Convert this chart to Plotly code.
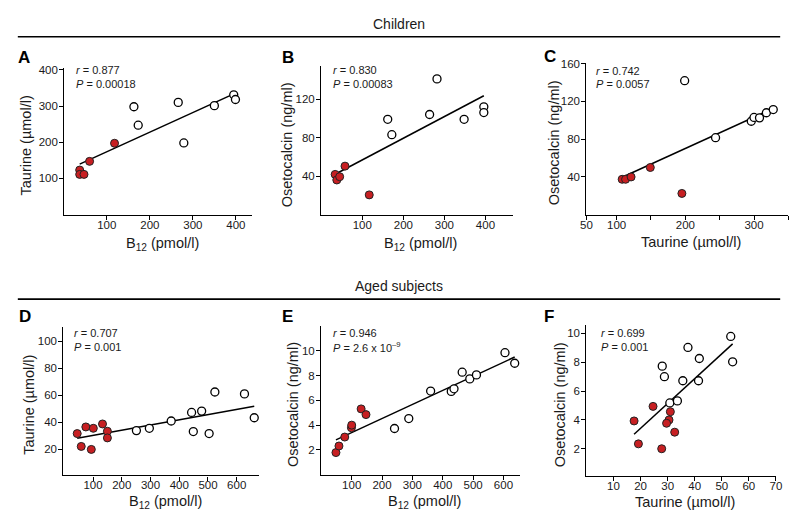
import numpy as np
import plotly.graph_objects as go

W, H = 798, 524

# ---------------- data ----------------
# A: B12 vs Taurine (children)
a_b12_red = [37, 37, 47, 60, 118]
a_tau_red = [123, 111, 111, 147, 197]
a_b12_white = [163, 173, 266, 279, 350, 395, 399]
a_tau_white = [298, 247, 310, 198, 301, 331, 318]

# B: B12 vs Osetocalcin (children)
b_b12_red = [34, 38, 45, 58, 117]
b_oc_red = [41.7, 35.9, 39.3, 50.3, 20.4]
b_b12_white = [162, 172, 264, 282, 348, 396, 396]
b_oc_white = [99, 83, 104, 141, 99, 112, 106]

# C: Taurine vs Osetocalcin (children)
c_tau_red = [108, 113, 121, 149, 195]
c_oc_red = [37.5, 37.5, 40, 50, 22.5]
c_tau_white = [199, 244, 296, 300, 308, 318, 328]
c_oc_white = [142, 81.6, 99, 103, 102.6, 108, 111.4]

# D: B12 vs Taurine (aged)
d_b12_red = [45, 59, 75, 94, 101, 133, 150, 150]
d_tau_red = [31.7, 22.2, 36.6, 20, 35.6, 38.8, 33.4, 28.5]
d_b12_white = [251, 296, 372, 443, 449, 478, 504, 524, 627, 661]
d_tau_white = [33.9, 35.6, 41, 47.3, 33.2, 48.3, 31.7, 62.4, 61, 43.4]

# E: B12 vs Osetocalcin (aged)
e_b12_red = [48, 58, 77, 99, 100, 131, 147]
e_oc_red = [1.79, 2.32, 3.04, 3.79, 4.0, 5.31, 4.85]
e_b12_white = [241, 288, 360, 428, 437, 464, 489, 511, 605, 637]
e_oc_white = [3.73, 4.53, 6.75, 6.72, 6.93, 8.27, 7.73, 8.05, 9.84, 8.99]

# F: Taurine vs Osetocalcin (aged)
f_tau_red = [24.6, 31, 30.5, 29.6, 17.6, 32.6, 19.2, 27.8]
f_oc_red = [4.94, 4.57, 4.0, 3.77, 3.93, 3.15, 2.34, 2.0]
f_tau_white = [53.3, 37.5, 41.7, 54, 28, 28.8, 35.6, 41.4, 30.8, 33.6]
f_oc_white = [9.79, 9.03, 8.26, 8.03, 7.73, 7.0, 6.72, 6.72, 5.18, 5.32]

stats_r = ["0.877", "0.830", "0.742", "0.707", "0.946", "0.699"]
stats_p = ["0.00018", "0.00083", "0.0057", "0.001", "2.6 x 10<sup>–9</sup>", "0.001"]
panel_letters = ["A", "B", "C", "D", "E", "F"]
group_titles = ["Children", "Aged subjects"]

b12_title = "B<sub>12</sub> (pmol/l)"
tau_title = "Taurine (\u00b5mol/l)"
oc_title = "Osetocalcin (ng/ml)"

# tick values / labels
a_xticks = [100, 200, 300, 400]
a_yticks = [100, 200, 300, 400]
b_xticks = [100, 200, 300, 400]
b_yticks = [40, 80, 120]
c_xticks = [56, 100, 200, 300]
c_xticklabels = ["50", "100", "200", "300"]
c_xminor = [150, 250, 350]
c_yticks = [40, 80, 120, 160]
d_xticks = [100, 200, 300, 400, 500, 600]
d_yticks = [20, 40, 60, 80, 100]
e_xticks = [100, 200, 300, 400, 500, 600]
e_yticks = [2, 4, 6, 8, 10]
f_xticks = [10, 20, 30, 40, 50, 60, 70]
f_yticks = [2, 4, 6, 8, 10]

# ---------------- layout helpers ----------------
def px(x):
    return x / W

def py(y):
    return 1 - y / H

FONT = "Liberation Sans, Arial, sans-serif"
RED = "#c71f22"

panels = [
    dict(xr=a_b12_red, yr=a_tau_red, xw=a_b12_white, yw=a_tau_white,
         xd=(59.3, 250), yd=(64, 212.3), xrng=[1.5, 438], yrng=[-2, 404],
         xt=a_xticks, xtt=None, xminor=None, yt=a_yticks, xtitle=b12_title, ytitle=tau_title,
         letter=(18, 53), txt=(69, 66), ytit_x=20, xtit_y=241.5),
    dict(xr=b_b12_red, yr=b_oc_red, xw=b_b12_white, yw=b_oc_white,
         xd=(320, 514.3), yd=(61.7, 212.3), xrng=[0, 466], yrng=[-0.8, 154.3],
         xt=b_xticks, xtt=None, xminor=None, yt=b_yticks, xtitle=b12_title, ytitle=oc_title,
         letter=(286, 53), txt=(330, 66), ytit_x=285, xtit_y=241.5),
    dict(xr=c_tau_red, yr=c_oc_red, xw=c_tau_white, yw=c_oc_white,
         xd=(589.3, 794.3), yd=(58.3, 211.7), xrng=[56, 350], yrng=[0, 161],
         xt=c_xticks, xtt=c_xticklabels, xminor=c_xminor, yt=c_yticks, xtitle=tau_title, ytitle=oc_title,
         letter=(552, 52), txt=(597, 66.5), ytit_x=556, xtit_y=239),
    dict(xr=d_b12_red, yr=d_tau_red, xw=d_b12_white, yw=d_tau_white,
         xd=(58.3, 256.7), yd=(325, 475), xrng=[-3, 677], yrng=[0.75, 110.5],
         xt=d_xticks, xtt=None, xminor=None, yt=d_yticks, xtitle=b12_title, ytitle=tau_title,
         letter=(19, 315), txt=(66.7, 331.5), ytit_x=23, xtit_y=501.5),
    dict(xr=e_b12_red, yr=e_oc_red, xw=e_b12_white, yw=e_oc_white,
         xd=(320, 521.7), yd=(324, 474.3), xrng=[-0.6, 654], yrng=[0, 12],
         xt=e_xticks, xtt=None, xminor=None, yt=e_yticks, xtitle=b12_title, ytitle=oc_title,
         letter=(286, 315), txt=(330, 331.5), ytit_x=292, xtit_y=501.5),
    dict(xr=f_tau_red, yr=f_oc_red, xw=f_tau_white, yw=f_oc_white,
         xd=(589.3, 781.7), yd=(323.3, 475.7), xrng=[0, 70], yrng=[0.1, 10.57],
         xt=f_xticks, xtt=None, xminor=None, yt=f_yticks, xtitle=tau_title, ytitle=oc_title,
         letter=(551, 315), txt=(602, 331.5), ytit_x=562, xtit_y=502),
]

fig = go.Figure()
layout = {}
annotations = []

for i, p in enumerate(panels):
    n = i + 1
    xa = "x" if n == 1 else f"x{n}"
    ya = "y" if n == 1 else f"y{n}"
    xkey = "xaxis" if n == 1 else f"xaxis{n}"
    ykey = "yaxis" if n == 1 else f"yaxis{n}"

    # regression line from all points
    xs = np.array(p["xr"] + p["xw"], dtype=float)
    ys = np.array(p["yr"] + p["yw"], dtype=float)
    slope, intercept = np.polyfit(xs, ys, 1)
    lx = np.array([xs.min(), xs.max()])
    fig.add_trace(go.Scatter(x=lx, y=slope * lx + intercept, mode="lines",
                             line=dict(color="black", width=1.5),
                             xaxis=xa, yaxis=ya, showlegend=False, hoverinfo="skip"))
    fig.add_trace(go.Scatter(x=p["xw"], y=p["yw"], mode="markers",
                             marker=dict(size=8, color="white", line=dict(color="black", width=1.3)),
                             xaxis=xa, yaxis=ya, showlegend=False, cliponaxis=False))
    fig.add_trace(go.Scatter(x=p["xr"], y=p["yr"], mode="markers",
                             marker=dict(size=8, color=RED, line=dict(color="#222", width=1)),
                             xaxis=xa, yaxis=ya, showlegend=False, cliponaxis=False))

    axis_common = dict(showline=True, linecolor="black", linewidth=1.4,
                       ticks="outside", ticklen=4, tickwidth=1.3, tickcolor="black",
                       showgrid=False, zeroline=False,
                       tickfont=dict(family=FONT, size=11.5, color="#1a1a1a"))
    xcfg = dict(axis_common, domain=[px(p["xd"][0]), px(p["xd"][1])], range=p["xrng"],
                anchor=ya, tickvals=p["xt"], ticklabelstandoff=-5)
    if p["xtt"] is not None:
        xcfg["ticktext"] = p["xtt"]
    if p["xminor"] is not None:
        xcfg["minor"] = dict(tickvals=p["xminor"], ticks="outside", ticklen=4,
                             tickwidth=1.3, tickcolor="black", showgrid=False)
    ycfg = dict(axis_common, domain=[py(p["yd"][1]), py(p["yd"][0])], range=p["yrng"],
                anchor=xa, tickvals=p["yt"], ticklabelstandoff=-1)
    layout[xkey] = xcfg
    layout[ykey] = ycfg

    # axis titles as annotations for exact placement
    annotations.append(dict(text=p["xtitle"], x=px((p["xd"][0] + p["xd"][1]) / 2 + 4), y=py(p["xtit_y"]),
                            xref="paper", yref="paper", showarrow=False, xanchor="center", yanchor="middle",
                            font=dict(family=FONT, size=14.5, color="#1a1a1a")))
    annotations.append(dict(text=p["ytitle"], x=px(p["ytit_x"]), y=py((p["yd"][0] + p["yd"][1]) / 2 + 4),
                            xref="paper", yref="paper", showarrow=False, xanchor="center", yanchor="middle",
                            textangle=-90, font=dict(family=FONT, size=14.5, color="#1a1a1a")))
    # panel letter
    annotations.append(dict(text=f"<b>{panel_letters[i]}</b>", x=px(p["letter"][0]), y=py(p["letter"][1]),
                            xref="paper", yref="paper", showarrow=False, xanchor="center", yanchor="middle",
                            font=dict(family=FONT, size=17, color="black")))
    # stats
    annotations.append(dict(text=f"<i>r</i> = {stats_r[i]}", x=px(p["txt"][0]), y=py(p["txt"][1]),
                            xref="paper", yref="paper", showarrow=False, xanchor="left", yanchor="middle",
                            font=dict(family=FONT, size=11, color="#1a1a1a")))
    annotations.append(dict(text=f"<i>P</i> = {stats_p[i]}", x=px(p["txt"][0]), y=py(p["txt"][1] + 13.5),
                            xref="paper", yref="paper", showarrow=False, xanchor="left", yanchor="middle",
                            font=dict(family=FONT, size=11, color="#1a1a1a")))

# group headers
for title, ty in [(group_titles[0], 19), (group_titles[1], 284)]:
    annotations.append(dict(text=title, x=px(399), y=py(ty), xref="paper", yref="paper",
                            showarrow=False, xanchor="center", yanchor="middle",
                            font=dict(family="Liberation Sans Narrow, Liberation Sans, Arial", size=14, color="#1a1a1a")))

shapes = [
    dict(type="line", xref="paper", yref="paper", x0=px(12), x1=px(786), y0=py(32), y1=py(32),
         line=dict(color="black", width=1.6)),
    dict(type="line", xref="paper", yref="paper", x0=px(12), x1=px(786), y0=py(297), y1=py(297),
         line=dict(color="black", width=1.6)),
]

fig.update_layout(width=W, height=H, margin=dict(l=0, r=0, t=0, b=0),
                  paper_bgcolor="white", plot_bgcolor="white",
                  annotations=annotations, shapes=shapes, showlegend=False, **layout)

fig.write_html("out.html", config={"displayModeBar": False},
               post_script="document.body.style.margin='0px';document.body.style.overflow='hidden';")
